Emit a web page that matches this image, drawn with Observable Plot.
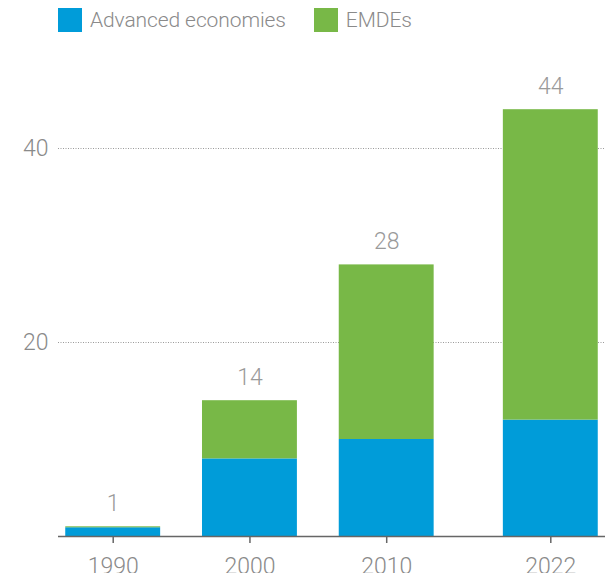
<!DOCTYPE html>
<html>
<head>
<meta charset="utf-8">
<script src="https://cdn.jsdelivr.net/npm/d3@7"></script>
<script src="https://cdn.jsdelivr.net/npm/@observablehq/plot@0.6"></script>
<style>
  html, body { margin: 0; padding: 0; background: #fff; }
  #wrap { position: relative; width: 605px; height: 573px; overflow: hidden; font-family: Roboto, sans-serif; }
  #legend { position: absolute; left: 58px; top: 8px; display: flex; align-items: center; font-size: 21px; font-weight: 300; color: #8a8a8a; letter-spacing: -0.1px; }
  .sw { width: 24px; height: 24px; display: inline-block; margin-right: 8px; }
  .item { display: flex; align-items: center; margin-right: 28px; line-height: 24px; }
  #chart { position: absolute; left: 0; top: 0; }
</style>
</head>
<body>
<div id="wrap">
  <div id="chart"></div>
  <div id="legend"></div>
</div>
<script>
const years = [1990, 2000, 2010, 2022];
const series = ["Advanced economies", "EMDEs"];
const advanced = [0.9, 8, 10, 12];
const emdes = [0.1, 6, 18, 32];
const totals = [1, 14, 28, 44];
const colors = ["#009cd9", "#78b847"];
const yTicks = [20, 40];

const data = [];
years.forEach((y, i) => {
  data.push({year: y, series: series[0], value: advanced[i]});
  data.push({year: y, series: series[1], value: emdes[i]});
});
const totalData = years.map((y, i) => ({year: y, total: totals[i]}));

const halfWidth = 3.47;

const chart = Plot.plot({
  width: 605,
  height: 573,
  marginLeft: 58,
  marginRight: 0,
  marginTop: 51,
  marginBottom: 37,
  style: {fontFamily: "Roboto, sans-serif", fontWeight: 300, background: "transparent"},
  x: {domain: [1986, 2026], axis: null},
  y: {domain: [0, 50], axis: null},
  color: {domain: series, range: colors},
  marks: [
    Plot.ruleY(yTicks, {stroke: "#9a9a9a", strokeWidth: 1, strokeDasharray: "1,1.5"}),
    Plot.axisY(yTicks, {tickSize: 0, tickPadding: 10, fontSize: 23, fill: "#8a8a8a", tickFormat: d => d, label: null}),
    Plot.rectY(data, Plot.stackY({
      x1: d => d.year - halfWidth,
      x2: d => d.year + halfWidth,
      y: "value",
      fill: "series",
      order: series
    })),
    Plot.ruleY([0], {stroke: "#666", strokeWidth: 1.5}),
    Plot.axisX(years, {tickSize: 7, tickPadding: 14, fontSize: 23, fill: "#8a8a8a", stroke: "#666", strokeWidth: 1.5, tickFormat: d => String(d), label: null}),
    Plot.text(totalData, {x: "year", y: "total", text: d => String(d.total), dy: -23, fontSize: 23, fill: "#9a9a9a"})
  ]
});
document.getElementById("chart").appendChild(chart);

const legend = document.getElementById("legend");
series.forEach((s, i) => {
  const item = document.createElement("div");
  item.className = "item";
  const sw = document.createElement("span");
  sw.className = "sw";
  sw.style.background = colors[i];
  item.appendChild(sw);
  const t = document.createElement("span");
  t.textContent = s;
  item.appendChild(t);
  legend.appendChild(item);
});
</script>
</body>
</html>
